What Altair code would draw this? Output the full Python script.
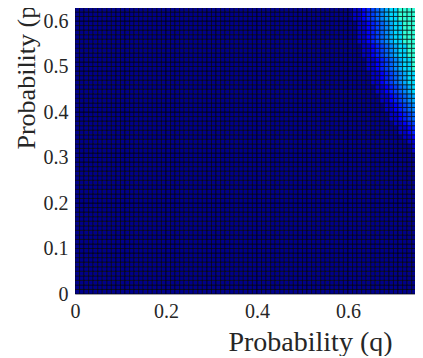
import altair as alt
import pandas as pd

# grid indices (value = index / 100)
q_index = list(range(0, 77))
p_index = list(range(0, 65))

# bright region: columns q=0.56..0.76, rows p=0.64 (first) down to p=0.30 (last)
bright_col_start = 56
bright_row_top = 64
bright_rows = [
    "000001123456788999999",  # p=0.64
    "000001123456788999999",
    "000001123456788999999",
    "000001123456788999999",
    "000001123456788999999",  # p=0.60
    "000000112345678899999",
    "000000112345678899999",
    "000000112345678899999",
    "000000112345678899999",
    "000000112345678899999",  # p=0.55
    "000000011234567889999",
    "000000011234567889999",
    "000000011234567889999",
    "000000001123456788999",
    "000000001123456788999",  # p=0.50
    "000000001123456788999",
    "000000000112345678899",
    "000000000112345678899",
    "000000000112345678899",
    "000000000011234567889",  # p=0.45
    "000000000011234567889",
    "000000000001123456788",
    "000000000001123456788",
    "000000000000112345678",
    "000000000000112345678",  # p=0.40
    "000000000000011234567",
    "000000000000011234567",
    "000000000000001123456",
    "000000000000000112345",
    "000000000000000112345",  # p=0.35
    "000000000000000011234",
    "000000000000000001123",
    "000000000000000000112",
    "000000000000000000112",
    "000000000000000000011",  # p=0.30
]
level_colors = ["#00008C", "#0000C8", "#0000FF", "#0020FF", "#0040FF",
                "#0064FF", "#0088FF", "#00ACFF", "#00D8FF", "#30FFD8"]

x_ticks = [0, 0.2, 0.4, 0.6]
y_ticks = [0, 0.1, 0.2, 0.3, 0.4, 0.5, 0.6]

records = []
for pi in p_index:
    for qi in q_index:
        lvl = 0
        r = bright_row_top - pi
        c = qi - bright_col_start
        if 0 <= r < len(bright_rows) and c >= 0:
            lvl = int(bright_rows[r][c])
        records.append({"qi": qi, "pi": pi, "level": lvl})
df = pd.DataFrame(records)

FONT = "Liberation Serif"

chart = alt.Chart(df).transform_calculate(
    q0="datum.qi / 100", q1="(datum.qi + 1) / 100",
    p0="datum.pi / 100", p1="(datum.pi + 1) / 100",
).mark_rect(clip=True, stroke="black", strokeWidth=0.7, strokeOpacity=0.9).encode(
    x=alt.X("q0:Q", scale=alt.Scale(domain=[0, 0.7473], nice=False, zero=False),
            axis=alt.Axis(values=x_ticks, format="~g", title="Probability (q)",
                          labelFlush=False, labelOverlap=False, ticks=False,
                          labelPadding=7, grid=False, titleFontSize=28,
                          titleX=235, titleY=56, titleAlign="center",
                          titleBaseline="alphabetic")),
    x2="q1:Q",
    y=alt.Y("p0:Q", scale=alt.Scale(domain=[0, 0.6286], nice=False, zero=False),
            axis=alt.Axis(values=y_ticks, format="~g", title="Probability (p)",
                          labelFlush=False, labelOverlap=False, ticks=False,
                          labelPadding=7, grid=False, titleFontSize=26,
                          titleX=-41, titleY=141, titleAngle=270,
                          titleAlign="left", titleBaseline="alphabetic")),
    y2="p1:Q",
    color=alt.Color("level:O", scale=alt.Scale(domain=list(range(10)), range=level_colors),
                    legend=None),
).properties(
    width=340, height=286,
    autosize=alt.AutoSizeParams(type="none"),
    padding={"left": 67, "top": 0, "right": 0, "bottom": 62},
).configure_view(stroke=None).configure_axis(
    labelFont=FONT, labelFontSize=20, labelColor="#262626",
    titleFont=FONT, titleColor="#262626", titleFontWeight="normal",
    domainColor="#a0a0a0", domainWidth=1,
)

chart.save("out.html", embed_options={"renderer": "svg", "actions": False})
